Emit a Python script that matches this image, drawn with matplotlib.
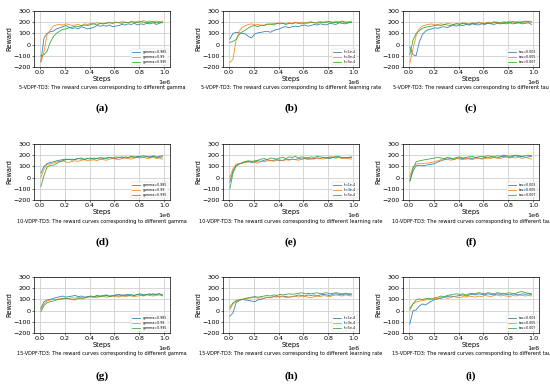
import numpy as np
import matplotlib
matplotlib.use("Agg")
import matplotlib.pyplot as plt

# x grid of the logged evaluations (steps)
steps = [10000 + 25000 * i for i in range(40)]

# ---- 5-VDPF-TD3 ----
a_blue = [-150, 60, 100, 115, 120, 140, 150, 160, 170, 155, 145, 150, 140, 160, 150, 140, 145, 155, 170, 165,
          170, 165, 175, 160, 165, 170, 180, 175, 185, 180, 190, 175, 185, 180, 190, 185, 195, 180, 190, 200]
a_orange = [-160, -60, 90, 130, 165, 175, 180, 175, 185, 180, 170, 175, 180, 170, 185, 180, 190, 185, 195, 190,
            185, 195, 200, 190, 200, 195, 205, 200, 195, 205, 200, 210, 205, 215, 205, 210, 200, 210, 205, 210]
a_green = [-100, -90, -60, 20, 70, 100, 120, 135, 140, 150, 155, 165, 160, 170, 175, 170, 180, 185, 175, 190,
           185, 190, 195, 190, 200, 195, 190, 200, 195, 205, 200, 195, 205, 200, 195, 200, 205, 195, 200, 195]

b_blue = [50, 100, 110, 105, 100, 95, 70, 60, 95, 105, 110, 115, 120, 110, 125, 135, 140, 155, 160, 150,
          160, 165, 160, 170, 175, 165, 170, 180, 175, 185, 180, 175, 190, 185, 180, 195, 190, 185, 195, 200]
b_orange = [-160, -130, 40, 120, 155, 170, 180, 185, 175, 180, 170, 175, 185, 180, 190, 185, 195, 190, 185, 195,
            190, 200, 195, 200, 190, 200, 205, 195, 200, 205, 200, 210, 205, 200, 210, 205, 210, 200, 205, 210]
b_green = [20, 30, 45, 90, 115, 130, 150, 165, 170, 160, 175, 170, 180, 185, 175, 190, 185, 190, 180, 190,
           185, 195, 190, 185, 195, 190, 200, 195, 190, 200, 195, 200, 205, 195, 200, 195, 205, 200, 195, 200]

c_blue = [-20, -90, -100, 20, 90, 120, 135, 140, 150, 145, 155, 160, 150, 165, 170, 165, 175, 170, 180, 175,
          185, 180, 175, 185, 180, 190, 185, 180, 190, 185, 190, 185, 195, 185, 190, 195, 185, 190, 195, 180]
c_orange = [-160, -40, 80, 140, 165, 175, 180, 185, 175, 180, 185, 180, 190, 185, 180, 190, 185, 195, 190, 185,
            195, 190, 200, 195, 190, 200, 195, 205, 200, 195, 205, 200, 210, 205, 200, 210, 205, 200, 210, 205]
c_green = [-90, 40, 100, 125, 145, 155, 160, 165, 170, 175, 170, 180, 175, 170, 180, 185, 180, 190, 185, 180,
           190, 185, 195, 190, 185, 195, 190, 195, 200, 190, 195, 200, 195, 205, 200, 195, 200, 210, 205, 200]

# ---- 10-VDPF-TD3 ----
d_blue = [40, 100, 125, 135, 140, 150, 155, 160, 165, 160, 165, 160, 170, 165, 160, 170, 165, 175, 170, 165,
          170, 175, 180, 175, 170, 180, 185, 175, 180, 185, 180, 190, 185, 180, 190, 185, 195, 180, 190, 195]
d_orange = [0, 80, 115, 125, 130, 140, 145, 150, 140, 135, 145, 150, 145, 155, 160, 150, 155, 160, 150, 165,
            160, 155, 165, 170, 165, 160, 170, 175, 170, 165, 175, 180, 175, 185, 170, 175, 180, 170, 175, 165]
d_green = [-80, 20, 95, 110, 110, 125, 140, 150, 160, 165, 155, 165, 170, 175, 165, 170, 175, 165, 170, 180,
           175, 170, 180, 175, 185, 180, 175, 185, 180, 190, 185, 180, 190, 195, 185, 180, 190, 185, 180, 185]

e_blue = [-40, 60, 110, 125, 130, 140, 145, 135, 140, 150, 145, 155, 160, 150, 155, 160, 150, 155, 165, 160,
          165, 160, 170, 165, 170, 175, 165, 170, 175, 170, 180, 175, 170, 180, 175, 185, 175, 180, 175, 180]
e_orange = [0, 80, 120, 125, 130, 135, 140, 145, 135, 130, 145, 140, 150, 155, 145, 155, 160, 150, 160, 155,
            165, 160, 155, 165, 170, 160, 170, 165, 175, 170, 165, 175, 180, 185, 175, 180, 170, 175, 170, 165]
e_green = [-100, 40, 100, 120, 135, 145, 150, 145, 150, 155, 165, 170, 160, 175, 170, 165, 175, 180, 170, 185,
           180, 190, 175, 185, 180, 175, 185, 180, 190, 185, 180, 175, 185, 180, 190, 185, 180, 175, 180, 185]

f_blue = [-30, 60, 105, 110, 105, 110, 115, 120, 125, 140, 150, 160, 165, 170, 160, 170, 175, 170, 165, 175,
          170, 180, 175, 170, 180, 175, 185, 180, 175, 185, 190, 185, 180, 190, 195, 185, 190, 180, 185, 190]
f_orange = [10, 95, 120, 125, 125, 130, 130, 135, 145, 150, 160, 170, 165, 155, 160, 170, 165, 160, 175, 165,
            160, 170, 175, 165, 170, 175, 170, 180, 175, 170, 180, 185, 175, 180, 175, 185, 170, 180, 175, 165]
f_green = [-30, 80, 140, 150, 155, 160, 165, 170, 175, 180, 175, 170, 180, 175, 170, 180, 185, 175, 180, 185,
           190, 180, 185, 190, 185, 195, 190, 185, 195, 190, 200, 195, 190, 195, 200, 195, 190, 195, 200, 195]

# ---- 15-VDPF-TD3 ----
g_blue = [20, 80, 95, 100, 110, 115, 125, 130, 120, 125, 130, 135, 125, 130, 120, 125, 130, 125, 135, 130,
          135, 140, 130, 135, 140, 145, 135, 140, 145, 140, 135, 145, 150, 140, 145, 150, 140, 145, 150, 140]
g_orange = [10, 60, 85, 95, 100, 100, 105, 110, 105, 110, 115, 110, 120, 115, 110, 120, 125, 120, 115, 125,
            130, 120, 125, 130, 125, 120, 130, 125, 135, 130, 125, 130, 135, 130, 140, 135, 130, 135, 140, 130]
g_green = [-10, 45, 70, 80, 85, 95, 100, 105, 110, 105, 100, 95, 110, 105, 115, 120, 125, 120, 130, 125,
           130, 135, 125, 130, 135, 130, 140, 135, 130, 140, 135, 145, 140, 135, 145, 140, 150, 145, 150, 135]

h_blue = [-50, -20, 70, 90, 100, 95, 90, 85, 80, 95, 100, 110, 120, 115, 125, 130, 120, 130, 125, 120,
          125, 130, 140, 135, 130, 140, 135, 140, 130, 140, 145, 140, 135, 145, 150, 145, 140, 150, 145, 140]
h_orange = [10, 60, 80, 95, 100, 105, 110, 115, 120, 110, 115, 110, 120, 115, 125, 120, 130, 125, 115, 120,
            125, 130, 120, 130, 125, 120, 115, 125, 130, 125, 135, 130, 125, 135, 140, 135, 130, 140, 135, 130]
h_green = [30, 70, 90, 95, 100, 110, 115, 120, 125, 120, 125, 130, 135, 130, 140, 135, 145, 140, 145, 150,
           145, 150, 155, 160, 150, 155, 150, 155, 160, 150, 155, 160, 150, 155, 160, 155, 150, 155, 150, 150]

i_blue = [-120, 0, 5, 40, 60, 50, 70, 85, 100, 105, 110, 120, 125, 130, 125, 130, 135, 140, 130, 140,
          145, 140, 150, 145, 140, 150, 145, 140, 150, 145, 150, 145, 140, 150, 145, 140, 150, 145, 150, 140]
i_orange = [0, 60, 75, 85, 90, 95, 100, 100, 105, 110, 115, 120, 110, 115, 125, 120, 115, 125, 120, 130,
            125, 120, 130, 125, 135, 130, 125, 135, 140, 130, 135, 130, 125, 135, 130, 140, 135, 130, 135, 130]
i_green = [20, 60, 95, 105, 100, 105, 110, 105, 115, 120, 130, 125, 135, 140, 145, 150, 145, 150, 140, 150,
           155, 150, 160, 155, 150, 160, 155, 150, 160, 155, 150, 155, 160, 150, 155, 165, 170, 160, 155, 150]

gamma_labels = ["gamma=0.985", "gamma=0.99", "gamma=0.995"]
lr_labels = ["lr=1e-4", "lr=3e-4", "lr=5e-4"]
tau_labels = ["tau=0.003", "tau=0.005", "tau=0.007"]

panels = [
    ("(a)", "5-VDPF-TD3: The reward curves corresponding to different gamma", gamma_labels, [a_blue, a_orange, a_green]),
    ("(b)", "5-VDPF-TD3: The reward curves corresponding to different learning rate", lr_labels, [b_blue, b_orange, b_green]),
    ("(c)", "5-VDPF-TD3: The reward curves corresponding to different tau", tau_labels, [c_blue, c_orange, c_green]),
    ("(d)", "10-VDPF-TD3: The reward curves corresponding to different gamma", gamma_labels, [d_blue, d_orange, d_green]),
    ("(e)", "10-VDPF-TD3: The reward curves corresponding to different learning rate", lr_labels, [e_blue, e_orange, e_green]),
    ("(f)", "10-VDPF-TD3: The reward curves corresponding to different tau", tau_labels, [f_blue, f_orange, f_green]),
    ("(g)", "15-VDPF-TD3: The reward curves corresponding to different gamma", gamma_labels, [g_blue, g_orange, g_green]),
    ("(h)", "15-VDPF-TD3: The reward curves corresponding to different learning rate", lr_labels, [h_blue, h_orange, h_green]),
    ("(i)", "15-VDPF-TD3: The reward curves corresponding to different tau", tau_labels, [i_blue, i_orange, i_green]),
]

colors = ["#1f77b4", "#ff7f0e", "#2ca02c"]

W, H = 550, 387
fig = plt.figure(figsize=(W / 100, H / 100), dpi=100)

col_left = [34, 223, 403]
ax_w = 136
row_top = [11, 144, 277]
ax_h = 56
caption_y = [88, 222, 354]
label_y = [108, 242, 376]

for k, (tag, caption, labels, series) in enumerate(panels):
    r, c = divmod(k, 3)
    ax = fig.add_axes([col_left[c] / W, 1 - (row_top[r] + ax_h) / H, ax_w / W, ax_h / H])
    for ys, lab, col in zip(series, labels, colors):
        ax.plot(steps, ys, color=col, lw=0.6, label=lab, alpha=0.9)
    ax.set_ylim(-200, 300)
    ax.set_yticks([-200, -100, 0, 100, 200, 300])
    ax.set_xlim(-45000, 1045000)
    ax.set_xticks([0, 200000, 400000, 600000, 800000, 1000000])
    ax.grid(True, color="#d0d0d0", lw=0.6)
    ax.tick_params(labelsize=4.6, length=1.5, width=0.4, pad=1)
    ax.xaxis.get_offset_text().set_fontsize(4.6)
    for sp in ax.spines.values():
        sp.set_linewidth(0.5)
    ax.set_xlabel("Steps", fontsize=4.8, labelpad=0.5)
    ax.set_ylabel("Reward", fontsize=4.8, labelpad=0.5)
    leg = ax.legend(loc="lower right", fontsize=2.3, handlelength=2.5, borderpad=0.4,
                    labelspacing=0.3, frameon=True, fancybox=False)
    leg.get_frame().set_linewidth(0.3)
    cx = (col_left[c] + ax_w / 2) / W
    fig.text(cx, 1 - caption_y[r] / H, caption, fontsize=3.6, ha="center", va="center")
    fig.text(cx, 1 - label_y[r] / H, tag, fontsize=8, ha="center", va="center",
             family="Liberation Serif", fontweight="bold")

fig.savefig("out.png", dpi=100)
